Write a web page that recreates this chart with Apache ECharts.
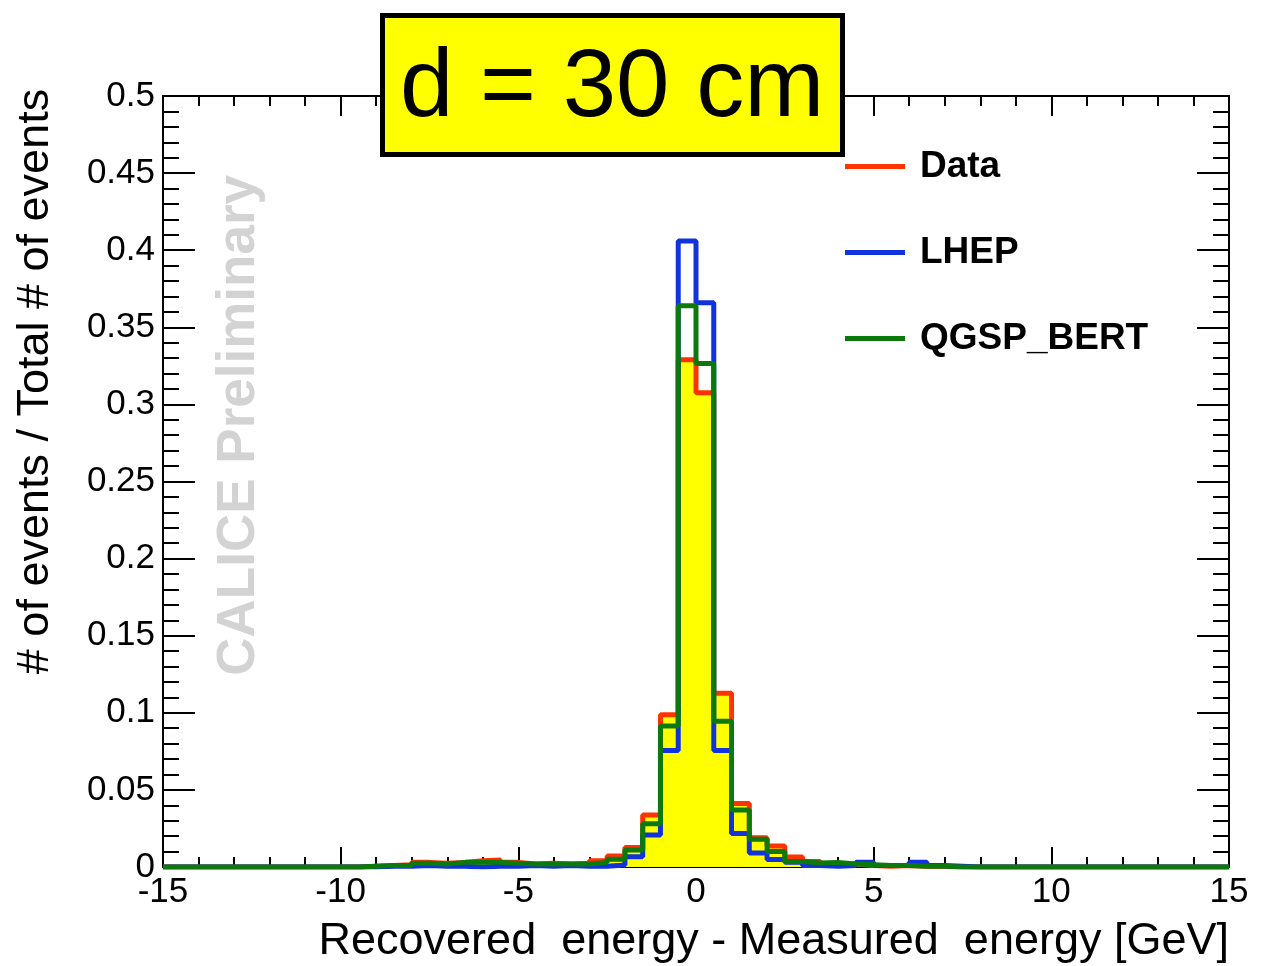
<!DOCTYPE html>
<html lang="en">
<head>
<meta charset="UTF-8">
<title>d = 30 cm</title>
<script src="https://cdn.jsdelivr.net/npm/echarts@6/dist/echarts.min.js"></script>
<style>
    html, body { margin: 0; padding: 0; background: #fff; }
    #main { width: 1273px; height: 966px; }
</style>
</head>
<body>
<div id="main"></div>
<script>
// 60 bins of 0.5 GeV from -15 to 15
var binLow = -15, binWidth = 0.5;
var seriesNames = ['Data', 'LHEP', 'QGSP_BERT'];

var dataVals = [
    0, 0, 0, 0, 0, 0, 0, 0, 0, 0,
    0, 0.0005, 0.001, 0.0015, 0.003, 0.0025, 0.003, 0.004, 0.0045, 0.003,
    0.002, 0.0025, 0.002, 0.0025, 0.004, 0.0071, 0.0127, 0.0338, 0.0988, 0.329,
    0.3075, 0.1126, 0.0411, 0.019, 0.0136, 0.0065, 0.0035, 0.002, 0.002, 0.001,
    0.0005, 0.001, 0.0005, 0.0005, 0, 0, 0, 0, 0, 0,
    0, 0, 0, 0, 0, 0, 0, 0, 0, 0
];
var lhepVals = [
    0, 0, 0, 0, 0, 0, 0, 0, 0, 0,
    0, 0, 0.0005, 0.0005, 0.001, 0.0005, 0.0005, 0, 0.0005, 0.0005,
    0.001, 0.0005, 0.001, 0.0005, 0.0005, 0.0013, 0.0067, 0.0208, 0.0755, 0.406,
    0.366, 0.0755, 0.0218, 0.009, 0.0048, 0.003, 0.001, 0.0005, 0.001, 0.003,
    0.001, 0.001, 0.003, 0.001, 0.0005, 0, 0, 0, 0, 0,
    0, 0, 0, 0, 0, 0, 0, 0, 0, 0
];
var qgspVals = [
    0, 0, 0, 0, 0, 0, 0, 0, 0, 0,
    0, 0.0005, 0.001, 0.001, 0.0025, 0.002, 0.003, 0.003, 0.003, 0.0025,
    0.002, 0.002, 0.002, 0.002, 0.003, 0.005, 0.011, 0.028, 0.0914, 0.364,
    0.3266, 0.0945, 0.037, 0.018, 0.010, 0.0036, 0.0026, 0.003, 0.002, 0.0015,
    0.001, 0.001, 0.0005, 0.0005, 0, 0, 0, 0, 0, 0,
    0, 0, 0, 0, 0, 0, 0, 0, 0, 0
];

// step points: left edge of every bin, plus the last right edge
function stepPoints(vals) {
    var pts = [];
    for (var i = 0; i <= vals.length; i++) {
        pts.push([binLow + i * binWidth, vals[Math.min(i, vals.length - 1)]]);
    }
    return pts;
}

var font = 'Liberation Sans, Helvetica, Arial, sans-serif';

function xAxisCfg(pos, labels) {
    return {
        type: 'value', position: pos, min: -15, max: 15, interval: 5,
        axisLine: { show: true, onZero: false, lineStyle: { color: '#000', width: 2 } },
        axisTick: { show: true, inside: true, length: 20, lineStyle: { color: '#000', width: 2 } },
        minorTick: { show: true, splitNumber: 5, length: 10, lineStyle: { color: '#000', width: 2 } },
        splitLine: { show: false },
        axisLabel: { show: labels, color: '#000', fontSize: 35, fontFamily: font, margin: 8 }
    };
}
function yAxisCfg(pos, labels) {
    return {
        type: 'value', position: pos, min: 0, max: 0.5, interval: 0.05,
        axisLine: { show: true, onZero: false, lineStyle: { color: '#000', width: 2 } },
        axisTick: { show: true, inside: true, length: 32, lineStyle: { color: '#000', width: 2 } },
        minorTick: { show: true, splitNumber: 5, length: 16, lineStyle: { color: '#000', width: 2 } },
        splitLine: { show: false },
        axisLabel: { show: labels, color: '#000', fontSize: 35, fontFamily: font, margin: 8 }
    };
}

var xBottom = xAxisCfg('bottom', true);
xBottom.name = 'Recovered  energy - Measured  energy [GeV]';
xBottom.nameLocation = 'end';
xBottom.nameGap = 0;
xBottom.nameTextStyle = { color: '#000', fontSize: 45, fontFamily: font, align: 'right', verticalAlign: 'top', padding: [52, 0, 0, 0] };

var yLeft = yAxisCfg('left', true);
yLeft.name = '# of events / Total # of events';
yLeft.nameLocation = 'middle';
yLeft.nameRotate = 90;
yLeft.nameGap = 105;
yLeft.nameTextStyle = { color: '#000', fontSize: 45, fontFamily: font, padding: [0, 0, 0, 200] };

var colors = ['#ff3300', '#1133dd', '#0b790b'];
var allVals = [dataVals, lhepVals, qgspVals];

var series = seriesNames.map(function (name, k) {
    var s = {
        name: name, type: 'line', step: 'end',
        xAxisIndex: 0, yAxisIndex: 0,
        data: stepPoints(allVals[k]),
        showSymbol: false, symbol: 'none',
        color: colors[k],
        lineStyle: { color: colors[k], width: 5 },
        itemStyle: { color: colors[k] },
        z: 3 + k
    };
    if (k === 0) s.areaStyle = { color: '#ffff00', opacity: 1 };
    return s;
});

var chart = echarts.init(document.getElementById('main'));
chart.setOption({
    animation: false,
    backgroundColor: '#fff',
    grid: { left: 163, right: 44, top: 96, bottom: 99, containLabel: false },
    xAxis: [xBottom, xAxisCfg('top', false)],
    yAxis: [yLeft, yAxisCfg('right', false)],
    legend: {
        data: seriesNames, orient: 'vertical', left: 845, top: 148, padding: 0,
        icon: 'rect', itemWidth: 60, itemHeight: 5, itemGap: 49,
        textStyle: { color: '#000', fontSize: 37, fontWeight: 'bold', fontFamily: font, padding: [0, 0, 0, 10] }
    },
    graphic: [
        {
            type: 'text', left: 213, top: 175, rotation: Math.PI / 2, z: 1,
            style: { text: 'CALICE Preliminary', fill: '#d3d3d3', font: 'bold 53px ' + font }
        },
        {
            type: 'group', left: 380, top: 13, zlevel: 1, z: 100,
            children: [
                { type: 'rect', zlevel: 1, z: 100, shape: { x: 2.5, y: 2.5, width: 460, height: 139 },
                  style: { fill: '#ffff00', stroke: '#000', lineWidth: 5 } },
                { type: 'text', zlevel: 1, z: 101, x: 232, y: 77,
                  style: { text: 'd = 30 cm', fill: '#000', font: '96px ' + font, align: 'center', verticalAlign: 'middle' } }
            ]
        }
    ],
    series: series
});
</script>
</body>
</html>
